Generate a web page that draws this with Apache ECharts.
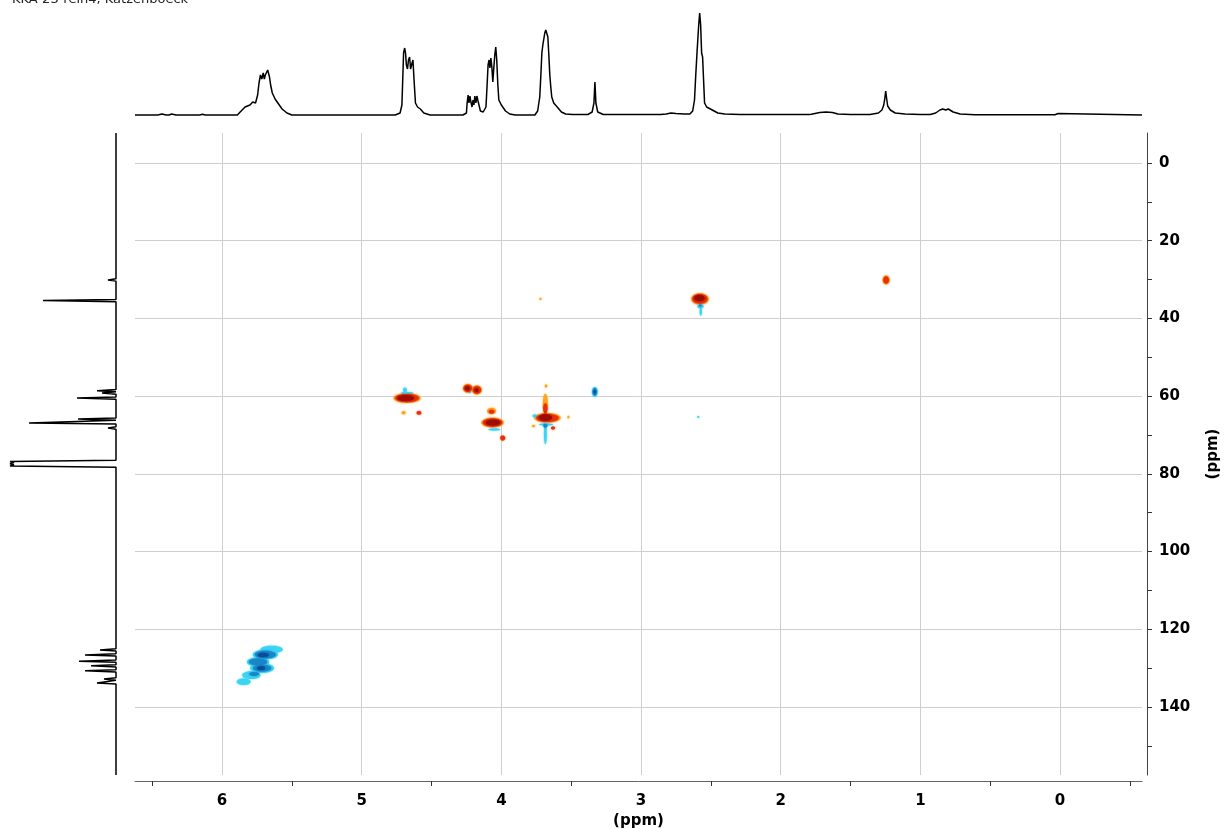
<!DOCTYPE html>
<html>
<head>
<meta charset="utf-8">
<title>HSQC KKA-23-rein4</title>
<script src="https://cdn.jsdelivr.net/npm/echarts@6/dist/echarts.min.js"></script>
<style>
  html, body { margin: 0; padding: 0; background: #fff; }
  #chart { width: 1224px; height: 829px; }
</style>
</head>
<body>
<div id="chart"></div>
<script>
const sampleName = 'KKA-23-rein4, Katzenboeck';
const axisTitle = '(ppm)';

// Display windows (ppm): F2 = 1H, F1 = 13C
const protonRange = [-0.587, 6.623];
const carbonRange = [-7.72, 157.5];

// Tick positions
const protonLabels = [0, 1, 2, 3, 4, 5, 6];
const protonHalfTicks = [-0.5, 0.5, 1.5, 2.5, 3.5, 4.5, 5.5, 6.5];
const carbonLabels = [0, 20, 40, 60, 80, 100, 120, 140];
const carbonOddTicks = [10, 30, 50, 70, 90, 110, 130, 150];

// 1H projection (top trace): chemical shift, intensity
const protonShift = [
  6.623, 6.46, 6.43, 6.40, 6.38, 6.36, 6.33, 6.16, 6.14, 6.12, 6.11, 6.09, 6.08, 6.06,
  5.89, 5.87, 5.835, 5.80, 5.78, 5.76, 5.745, 5.735, 5.725, 5.715, 5.705, 5.697, 5.69, 5.68,
  5.673, 5.666, 5.66, 5.652, 5.64, 5.62, 5.60, 5.57, 5.535, 5.50,
  4.76, 4.725, 4.712, 4.705, 4.70, 4.692, 4.686, 4.68, 4.672, 4.665, 4.657, 4.65, 4.643,
  4.633, 4.625, 4.615, 4.60, 4.58, 4.555, 4.51,
  4.275, 4.25, 4.245, 4.238, 4.232, 4.225, 4.218, 4.21, 4.203, 4.196, 4.19, 4.182, 4.175,
  4.167, 4.15, 4.13, 4.11, 4.102, 4.095, 4.088, 4.082, 4.075, 4.068, 4.061, 4.055, 4.047,
  4.04, 4.033, 4.025, 4.018, 4.00, 3.99, 3.97, 3.94, 3.90,
  3.76, 3.74, 3.725, 3.717, 3.71, 3.703, 3.696, 3.689, 3.682, 3.675, 3.667, 3.66, 3.653,
  3.646, 3.639, 3.625, 3.60, 3.57, 3.54, 3.49,
  3.38, 3.35, 3.337, 3.33, 3.323, 3.31, 3.27,
  2.86, 2.82, 2.785, 2.75, 2.69, 2.65, 2.63, 2.617, 2.608, 2.60, 2.594, 2.587, 2.58, 2.573,
  2.566, 2.559, 2.552, 2.545, 2.53, 2.49, 2.45, 2.40, 2.29,
  1.80, 1.78, 1.72, 1.675, 1.63, 1.59, 1.50, 1.36, 1.30, 1.275, 1.262, 1.255, 1.248, 1.241,
  1.234, 1.215, 1.18, 1.11, 1.00, 0.93, 0.89, 0.86, 0.84, 0.818, 0.80, 0.765, 0.715, 0.61,
  0.036, 0.014, 0.0, -0.587
];
const protonIntensity = [
  0, 0, 1, 0, 0, 1, 0, 0, 0.7, 0, 0.7, 0, 0.7, 0,
  0, 3, 8, 10, 13, 12, 20, 32, 40, 36, 42, 36, 40, 41,
  45, 44, 38, 30, 22, 16, 12, 6, 2, 0,
  0, 2, 10, 40, 62, 67, 62, 50, 46, 55, 58, 46, 50,
  55, 35, 12, 8, 6, 2, 0,
  0, 2, 12, 20, 12, 19, 13, 8, 15, 10, 19, 12, 19,
  14, 4, 3, 8, 30, 50, 55, 47, 57, 48, 33, 45, 60,
  68, 55, 30, 15, 10, 8, 4, 1, 0,
  0, 4, 18, 40, 62, 70, 76, 82, 85, 83, 78, 60, 40,
  28, 18, 12, 8, 3, 1, 0.5,
  0.5, 3, 12, 33, 12, 3, 0.5,
  0.5, 1, 2, 1.5, 1, 1, 4, 15, 40, 60, 62, 90, 102, 90,
  62, 58, 35, 12, 8, 5, 2, 1, 0.5,
  0.5, 0.8, 2.5, 3, 2.5, 1, 0.5, 0.5, 2, 5, 10, 16, 24, 16,
  9, 5, 2, 1, 0.5, 0.5, 2, 5, 6, 5, 6, 3, 1, 0.3,
  0.3, 1.5, 0.3, 0
];

// 13C projection (left trace): chemical shift, intensity
const carbonShift = [
  -7.72, 29.8, 30.1, 30.4, 35.1, 35.4, 35.7,
  58.3, 58.6, 58.9, 59.2, 59.5, 60.2, 60.5, 60.8,
  65.6, 65.9, 66.2, 66.6, 66.9, 67.2, 67.9, 68.2, 68.5,
  76.5, 76.8, 77.1, 77.4, 77.7, 78.0, 78.3,
  125.0, 125.3, 125.6, 126.3, 126.6, 126.9, 127.9, 128.2, 128.5,
  129.1, 129.4, 129.7, 130.4, 130.7, 131.0, 132.5, 132.8, 133.1,
  133.5, 133.8, 134.1, 157.5
];
const carbonIntensity = [
  0, 0, 8, 0, 0, 73, 0,
  0, 19, 0, 14, 0, 0, 39, 0,
  0, 38, 0, 0, 87, 0, 0, 8, 0,
  0, 106, 102, 106, 102, 106, 0,
  0, 16, 0, 0, 31, 0, 0, 37, 0,
  0, 25, 0, 0, 31, 0, 0, 12, 0,
  0, 19, 0, 0
];

// HSQC contour blobs: [dH, dC, spread H (ppm), spread C (ppm), level]
// level > 0: positive phase (CH/CH3), level < 0: negative phase (CH2)
const crossPeaks = [
  // 2.58 / 35.0
  [2.578, 35.0, 0.125, 2.9, 1], [2.578, 35.0, 0.108, 2.4, 2], [2.582, 34.8, 0.075, 1.6, 3],
  [2.574, 36.9, 0.045, 1.0, -1], [2.572, 38.2, 0.016, 2.2, -1], [2.576, 36.7, 0.02, 0.6, -2],
  // 1.245 / 30.1
  [1.245, 30.1, 0.05, 2.3, 1], [1.245, 30.1, 0.04, 1.8, 2],
  // 4.675 / 60.5
  [4.675, 60.5, 0.195, 2.5, 1], [4.675, 60.5, 0.17, 2.1, 2], [4.685, 60.5, 0.12, 1.5, 3],
  [4.69, 58.4, 0.028, 1.3, -1], [4.675, 59.2, 0.09, 0.5, -1],
  [4.70, 64.3, 0.03, 0.8, 1], [4.59, 64.3, 0.035, 1.0, 2],
  // 4.22 / 58.3 (two lobes)
  [4.24, 58.0, 0.07, 2.3, 1], [4.175, 58.4, 0.07, 2.3, 1],
  [4.24, 58.0, 0.06, 1.9, 2], [4.175, 58.4, 0.06, 1.9, 2],
  [4.243, 58.0, 0.035, 1.1, 3], [4.178, 58.5, 0.03, 1.0, 3],
  [4.225, 59.0, 0.015, 0.5, -1],
  // 4.06 / 66.8
  [4.063, 66.8, 0.16, 2.5, 1], [4.063, 66.8, 0.14, 2.1, 2], [4.06, 66.8, 0.105, 1.5, 3],
  [4.07, 63.8, 0.065, 1.6, 1], [4.07, 64.0, 0.04, 1.0, 2],
  [4.05, 68.6, 0.085, 0.5, -1],
  [3.99, 70.8, 0.036, 1.3, 2],
  // 3.68 / 65.6 with t1 streak
  [3.67, 65.6, 0.19, 2.4, 1], [3.67, 65.6, 0.16, 2.0, 2], [3.685, 65.5, 0.095, 1.7, 3],
  [3.685, 61.9, 0.035, 5.0, 1], [3.685, 63.2, 0.03, 2.8, 2],
  [3.68, 57.4, 0.02, 0.8, 1],
  [3.76, 65.1, 0.035, 0.7, -1],
  [3.52, 65.4, 0.015, 0.7, 1],
  [3.685, 69.7, 0.02, 5.4, -1], [3.68, 67.3, 0.1, 0.5, -1], [3.685, 67.6, 0.03, 1.0, -2],
  [3.77, 67.7, 0.025, 0.6, 1], [3.63, 68.2, 0.03, 0.8, 2],
  [3.72, 35.0, 0.01, 0.6, 1],
  [2.59, 65.4, 0.01, 0.5, -1],
  // 3.33 / 58.9
  [3.331, 58.9, 0.04, 2.5, -1], [3.331, 58.9, 0.03, 2.0, -2], [3.331, 58.9, 0.015, 1.0, -3],
  // 5.7 / 125-134 olefinic cluster
  [5.645, 125.2, 0.16, 1.9, -1], [5.69, 126.5, 0.18, 2.5, -1], [5.742, 128.4, 0.16, 2.3, -1],
  [5.713, 130.0, 0.17, 2.4, -1], [5.79, 131.8, 0.13, 2.0, -1], [5.845, 133.5, 0.10, 1.7, -1],
  [5.69, 126.5, 0.15, 2.0, -2], [5.742, 128.4, 0.13, 1.7, -2], [5.713, 130.0, 0.13, 1.7, -2],
  [5.77, 131.5, 0.07, 1.0, -2],
  [5.705, 126.6, 0.08, 1.1, -3], [5.72, 130.0, 0.06, 1.0, -3]
];

const phaseColors = {
  '1': '#ffa51c', '2': '#e6300c', '3': '#9c0c00',
  '-1': '#3dd3f3', '-2': '#1787c8', '-3': '#0a4c9c'
};

const chart = echarts.init(document.getElementById('chart'), null, { renderer: 'canvas' });

const labelFont = { color: '#000', fontFamily: 'DejaVu Sans', fontWeight: 'bold', fontSize: 15 };

const blobs = crossPeaks.slice().sort((a, b) => Math.abs(a[4]) - Math.abs(b[4]));

const option = {
  animation: false,
  backgroundColor: '#fff',
  graphic: [{
    type: 'text', left: 12, top: -7,
    style: { text: sampleName, font: '13px "DejaVu Sans"', fill: '#222' }
  }],
  grid: [
    { left: 135, right: 82, top: 133, bottom: 54, outerBoundsMode: 'none' },   // 2D map
    { left: 135, right: 82, top: 13, bottom: 714, outerBoundsMode: 'none' },   // 1H projection
    { left: 10, right: 1108, top: 133, bottom: 54, outerBoundsMode: 'none' }   // 13C projection
  ],
  xAxis: [
    {
      gridIndex: 0, type: 'value', inverse: true,
      min: protonRange[0], max: protonRange[1],
      position: 'bottom', offset: 6,
      name: axisTitle, nameLocation: 'middle', nameGap: 30,
      nameTextStyle: labelFont,
      axisLine: { show: true, onZero: false, lineStyle: { color: '#666', width: 1 } },
      axisTick: { show: false, customValues: protonLabels },
      axisLabel: { customValues: protonLabels, margin: 13, ...labelFont },
      splitLine: { show: true, lineStyle: { color: '#cfcfcf', width: 1 } }
    },
    {
      gridIndex: 0, type: 'value', inverse: true,
      min: protonRange[0], max: protonRange[1],
      position: 'bottom', offset: 6,
      axisLine: { show: false, onZero: false },
      axisTick: { show: true, length: 5, customValues: protonHalfTicks, lineStyle: { color: '#333' } },
      axisLabel: { show: false },
      splitLine: { show: false }
    },
    {
      gridIndex: 1, type: 'value', inverse: true,
      min: protonRange[0], max: protonRange[1], show: false
    },
    {
      gridIndex: 2, type: 'value', inverse: true, min: 0, max: 106, show: false
    }
  ],
  yAxis: [
    {
      gridIndex: 0, type: 'value', inverse: true,
      min: carbonRange[0], max: carbonRange[1],
      position: 'right', offset: 5,
      name: axisTitle, nameLocation: 'middle', nameGap: 59, nameRotate: 90,
      nameTextStyle: labelFont,
      axisLine: { show: true, onZero: false, lineStyle: { color: '#444', width: 1 } },
      axisTick: { show: true, length: 5, customValues: carbonLabels, lineStyle: { color: '#333' } },
      axisLabel: { customValues: carbonLabels, margin: 12, align: 'left', ...labelFont },
      splitLine: { show: true, lineStyle: { color: '#cfcfcf', width: 1 } }
    },
    {
      gridIndex: 0, type: 'value', inverse: true,
      min: carbonRange[0], max: carbonRange[1],
      position: 'right', offset: 5,
      axisLine: { show: false, onZero: false },
      axisTick: { show: true, length: 5, customValues: carbonOddTicks, lineStyle: { color: '#333' } },
      axisLabel: { show: false },
      splitLine: { show: false }
    },
    {
      gridIndex: 1, type: 'value', min: 0, max: 102, show: false
    },
    {
      gridIndex: 2, type: 'value', inverse: true,
      min: carbonRange[0], max: carbonRange[1], show: false
    }
  ],
  series: [
    {
      type: 'custom',
      xAxisIndex: 0, yAxisIndex: 0,
      encode: { x: 0, y: 1 },
      data: blobs,
      renderItem(params, api) {
        const c = api.coord([api.value(0), api.value(1)]);
        const s = api.size([api.value(2), api.value(3)], [api.value(0), api.value(1)]);
        const col = phaseColors[String(api.value(4))];
        return {
          type: 'ellipse',
          shape: { cx: c[0], cy: c[1], rx: Math.max(s[0] / 2, 1), ry: Math.max(s[1] / 2, 1) },
          style: { fill: col, shadowBlur: 2, shadowColor: col }
        };
      }
    },
    {
      type: 'line',
      xAxisIndex: 2, yAxisIndex: 2,
      data: protonShift.map((d, i) => [d, protonIntensity[i]]),
      showSymbol: false, symbol: 'none', clip: false,
      lineStyle: { color: '#000', width: 1.5 }
    },
    {
      type: 'line',
      xAxisIndex: 3, yAxisIndex: 3,
      data: carbonShift.map((d, i) => [carbonIntensity[i], d]),
      showSymbol: false, symbol: 'none', clip: false,
      lineStyle: { color: '#000', width: 1.5 }
    }
  ]
};

chart.setOption(option);
</script>
</body>
</html>
